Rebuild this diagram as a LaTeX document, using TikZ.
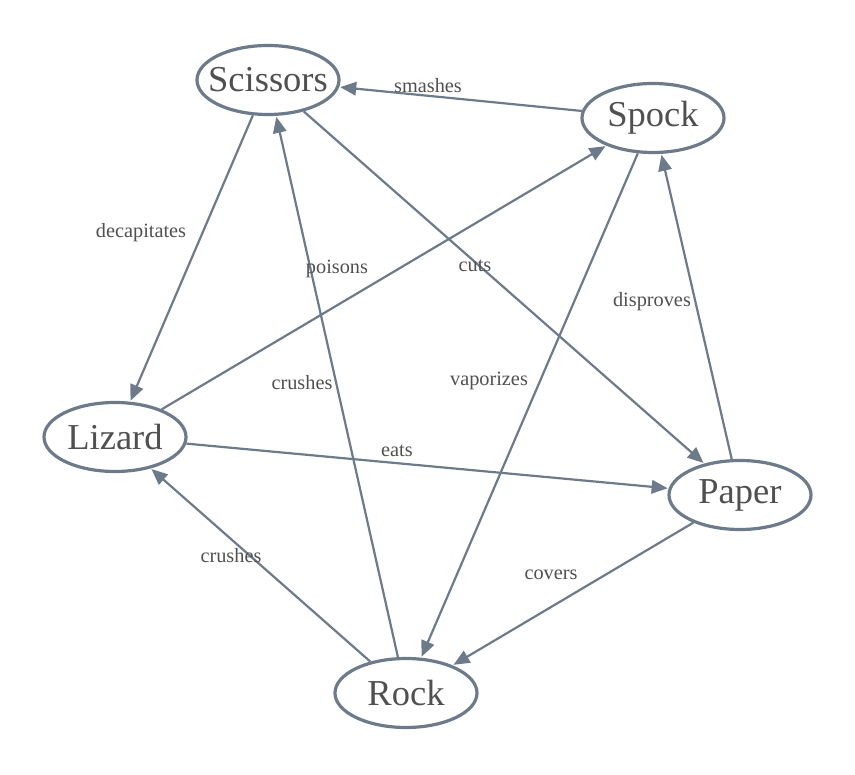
\documentclass[tikz,border=0pt]{standalone}
\usepackage{fontspec}
\setmainfont{Liberation Serif}
\usetikzlibrary{shapes.geometric,arrows.meta}
\definecolor{edgec}{RGB}{108,122,138}
\definecolor{textc}{RGB}{80,80,80}
\tikzset{
  animal/.style={ellipse, draw=edgec, line width=3.2pt, minimum width=142pt, minimum height=69pt, inner ysep=0pt, inner xsep=-12pt, text=textc, font=\fontsize{36.5}{38}\selectfont},
  lbl/.style={text=textc, font=\fontsize{20.3}{22}\selectfont, inner sep=0pt},
  rel/.style={draw=edgec, line width=2.2pt, -{Triangle[length=16pt,width=13.5pt]}, shorten >=1pt, shorten <=0pt}
}
\begin{document}
\begin{tikzpicture}[x=1pt,y=-1pt]
\useasboundingbox (0,0) rectangle (855,775);
\node[animal] (sc) at (268,80) {Scissors};
\node[animal] (sp) at (653,118) {Spock};
\node[animal] (li) at (115,437) {Lizard};
\node[animal] (pa) at (740,495) {Paper};
\node[animal] (ro) at (406,693) {Rock};

\draw[rel] (sp) -- (sc);
\draw[rel] (sc) -- (li);
\draw[rel] (li) -- (sp);
\draw[rel] (sc) -- (pa);
\draw[rel] (pa) -- (sp);
\draw[rel] (sp) -- (ro);
\draw[rel] (ro) -- (sc);
\draw[rel] (li) -- (pa);
\draw[rel] (ro) -- (li);
\draw[rel] (pa) -- (ro);

\node[lbl] (l1) at (428,86) {smashes};
\node[lbl] (l2) at (141,233) {decapitates};
\node[lbl] (l3) at (337,269) {poisons};
\node[lbl] (l4) at (475,266) {cuts};
\node[lbl] (l5) at (652,302) {disproves};
\node[lbl] (l6) at (489,381) {vaporizes};
\node[lbl] (l7) at (302,383) {crushes};
\node[lbl] (l8) at (397,451) {eats};
\node[lbl] (l9) at (231,556) {crushes};
\node[lbl] (l10) at (551,575) {covers};
\end{tikzpicture}
\end{document}
